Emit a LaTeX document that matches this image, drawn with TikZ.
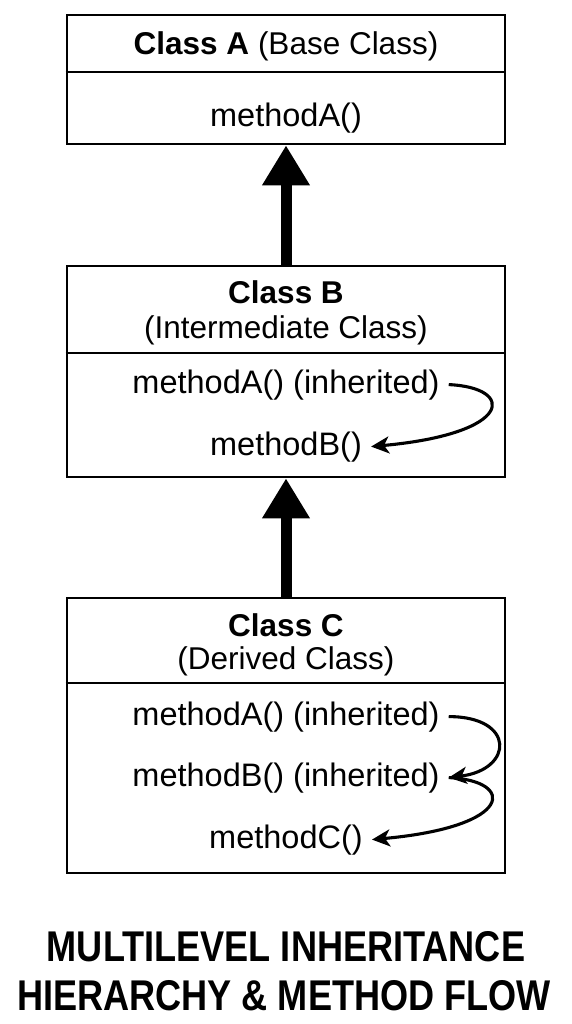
\documentclass[tikz,border=0pt]{standalone}
\usepackage{fontspec}
\usepackage{graphicx}
\setmainfont{Liberation Sans}
\usetikzlibrary{arrows.meta}
\tikzset{
  classbox/.style={draw=black, line width=2.6pt, fill=white, minimum width=438pt, inner sep=0pt},
  divider/.style={line width=2.6pt},
  hdr/.style={anchor=base, inner sep=0pt, font=\fontsize{31.5}{36}\selectfont},
  meth/.style={anchor=base, inner ysep=0pt, inner xsep=9pt, font=\fontsize{32.5}{36}\selectfont},
  ttl/.style={anchor=base, inner sep=0pt, font=\fontsize{43}{48}\selectfont\bfseries},
  inherit/.style={line width=11pt, -{Triangle[width=45pt,length=40pt]}},
  flow/.style={line width=3.1pt, -{Stealth[length=18pt,width=17pt,inset=5pt]}}
}
\begin{document}
\begin{tikzpicture}[x=1pt,y=-1pt]
\useasboundingbox (0,0) rectangle (572,1024);
\fill[white] (0,0) rectangle (572,1024);

% Class A
\node[classbox, minimum height=129pt] (boxA) at (286,79.5) {};
\draw[divider] (boxA.west |- 0,72) coordinate (dA1) -- (boxA.east |- 0,72) coordinate (dA2);
\node[hdr] (hA) at (286,55) {\textbf{Class A} (Base Class)};
\node[meth] (aA) at (286,127) {methodA()};

% Class B
\node[classbox, minimum height=211pt] (boxB) at (286,371.5) {};
\draw[divider] (boxB.west |- 0,353) coordinate (dB1) -- (boxB.east |- 0,353) coordinate (dB2);
\node[hdr] (hB1) at (286,303) {\textbf{Class B}};
\node[hdr] (hB2) at (286,338) {(Intermediate Class)};
\node[meth] (bA) at (286,393) {methodA() (inherited)};
\node[meth] (bB) at (286,455) {methodB()};

% Class C
\node[classbox, minimum height=275pt] (boxC) at (286,735.5) {};
\draw[divider] (boxC.west |- 0,683) coordinate (dC1) -- (boxC.east |- 0,683) coordinate (dC2);
\node[hdr] (hC1) at (286,636) {\textbf{Class C}};
\node[hdr] (hC2) at (286,669) {(Derived Class)};
\node[meth] (cA) at (286,725) {methodA() (inherited)};
\node[meth] (cB) at (286,786) {methodB() (inherited)};
\node[meth] (cC) at (286,848) {methodC()};

% inheritance arrows
\draw[inherit] (boxB.north) -- (boxA.south);
\draw[inherit] (boxC.north) -- (boxB.south);

% method flow arrows
\draw[flow] (bA.east) .. controls +(67,3) and +(143,-13) .. (bB.east);
\draw[flow] (cA.east) .. controls +(67,0) and +(65,-8) .. (cB.east);
\draw[flow] (cB.east) .. controls +(67,3) and +(143,-13) .. (cC.east);

% title
\node[ttl] (t1) at (286,961) {\scalebox{0.84}[1]{MULTILEVEL INHERITANCE}};
\node[ttl] (t2) at (284,1010) {\scalebox{0.84}[1]{HIERARCHY \& METHOD FLOW}};
\end{tikzpicture}
\end{document}
